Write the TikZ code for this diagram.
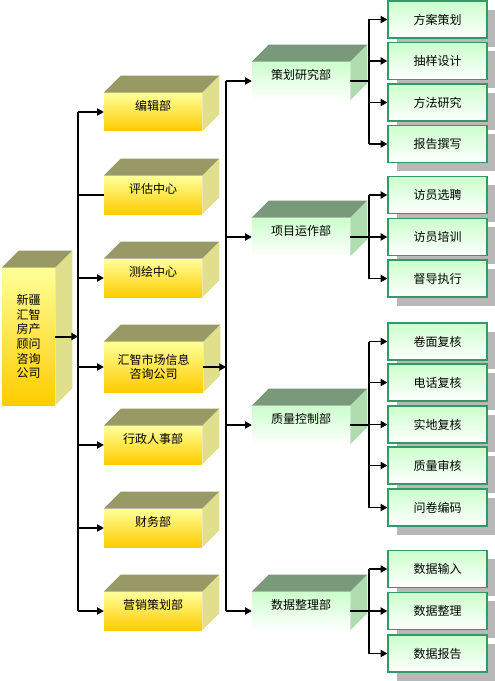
\documentclass[tikz,border=0pt]{standalone}
\usepackage{fontspec}
\setmainfont{Noto Sans CJK SC}
\usepackage{tikz}
\usetikzlibrary{arrows.meta, calc, shadows}
\definecolor{ink}{RGB}{0,0,0}
\definecolor{lemon}{RGB}{255,255,153}
\definecolor{amber}{RGB}{255,204,0}
\definecolor{olive}{RGB}{153,153,102}
\definecolor{straw}{RGB}{224,224,140}
\definecolor{mint}{RGB}{204,255,204}
\definecolor{sage}{RGB}{122,153,122}
\definecolor{fern}{RGB}{176,221,176}
\definecolor{jade}{RGB}{51,153,102}
\definecolor{smoke}{RGB}{184,184,184}

% top and side faces of a block whose front is node #1
\newcommand{\blockfaces}[3]{%
  \fill[#2] (#1.north west) -- ++(17,-17) -- ($(#1.north east)+(17,-17)$) -- (#1.north east) -- cycle;
  \fill[#3] (#1.north east) -- ++(17,-17) -- ($(#1.south east)+(17,-17)$) -- (#1.south east) -- cycle;}

\begin{document}
\begin{tikzpicture}[x=0.75pt, y=-0.75pt, font=\fontsize{9pt}{11pt}\selectfont]
  \tikzset{
    front/.style={inner sep=0pt, align=center, text=ink},
    yel/.style={front, top color=lemon, bottom color=amber, minimum width=73.5pt, minimum height=28.5pt},
    grn/.style={front, top color=mint, bottom color=white, minimum width=73.5pt, minimum height=28.5pt},
    up/.style={text height=8pt, text depth=10pt},
    leaf/.style={front, draw=jade, line width=1.1pt, top color=mint, bottom color=white,
      minimum width=74.25pt, minimum height=27.75pt,
      drop shadow={shadow xshift=6.5pt, shadow yshift=-6.5pt, fill=smoke, opacity=1}},
    wire/.style={draw=ink, line width=0.8pt},
    arr/.style={wire, -{Triangle[length=5pt, width=5.5pt]}}}

  \useasboundingbox (0,0) rectangle (495,681);

  % --- the firm
  \node[yel, minimum width=39.75pt, minimum height=102.75pt] (firm) at (28.5,336.5)
    {新疆\\汇智\\房产\\顾问\\咨询\\公司};
  \blockfaces{firm}{olive}{straw}

  % --- departments
  \node[yel, up] (edit)    at (153,112) {编辑部};
  \node[yel, up] (assess)  at (153,195) {评估中心};
  \node[yel, up] (survey)  at (153,278) {测绘中心};
  \node[yel, minimum width=74.25pt, minimum height=37.5pt] (mkt) at (153.5,367)
    {汇智市场信息\\咨询公司};
  \node[yel, up] (admin)   at (153,445) {行政人事部};
  \node[yel, up] (finance) at (153,528) {财务部};
  \node[yel, up] (sales)   at (153,611) {营销策划部};
  \foreach \n in {edit, assess, survey, mkt, admin, finance, sales}
    {\blockfaces{\n}{olive}{straw}}

  % --- sections of the research company
  \node[grn, up] (plan) at (301,81)  {策划研究部};
  \node[grn, up] (ops)  at (301,237) {项目运作部};
  \node[grn, up] (qc)   at (301,425) {质量控制部};
  \node[grn, up] (data) at (301,611) {数据整理部};
  \foreach \n in {plan, ops, qc, data}
    {\blockfaces{\n}{sage}{fern}}

  % --- tasks
  \node[leaf] (scheme)    at (437.5,19.5)  {方案策划};
  \node[leaf] (sampling)  at (437.5,61)    {抽样设计};
  \node[leaf] (method)    at (437.5,102.5) {方法研究};
  \node[leaf] (report)    at (437.5,144)   {报告撰写};
  \node[leaf] (hire)      at (437.5,195)   {访员选聘};
  \node[leaf] (train)     at (437.5,237)   {访员培训};
  \node[leaf] (supervise) at (437.5,278.5) {督导执行};
  \node[leaf] (paper)     at (437.5,341.5) {卷面复核};
  \node[leaf] (phone)     at (437.5,382.5) {电话复核};
  \node[leaf] (field)     at (437.5,424.5) {实地复核};
  \node[leaf] (audit)     at (437.5,465.5) {质量审核};
  \node[leaf] (coding)    at (437.5,507.5) {问卷编码};
  \node[leaf] (input)     at (437.5,569)   {数据输入};
  \node[leaf] (tidy)      at (437.5,611)   {数据整理};
  \node[leaf] (output)    at (437.5,653.5) {数据报告};

  % --- buses
  \coordinate (busA) at (78,0);
  \coordinate (busB) at (226,0);
  \coordinate (busC) at (369,0);

  \draw[arr, line width=1.5pt] (firm.east) -- (firm.east -| busA);
  \draw[wire] (busA |- edit.west) -- (busA |- sales.west);
  \draw[wire] (busA |- assess.west) -- (assess.west);
  \foreach \n in {edit, survey, mkt, admin, finance, sales}
    \draw[arr] (busA |- \n.west) -- (\n.west);

  \draw[arr] (mkt.east) -- (mkt.east -| busB);
  \draw[wire] (busB |- plan.west) -- (busB |- data.west);
  \foreach \n in {plan, ops, qc, data}
    \draw[arr] (busB |- \n.west) -- (\n.west);

  \foreach \g/\a/\b/\list in {plan/scheme/report/{scheme,sampling,method,report},
      ops/hire/supervise/{hire,train,supervise},
      qc/paper/coding/{paper,phone,field,audit,coding},
      data/input/output/{input,tidy,output}} {
    \draw[wire] (\g.east) -- (\g.east -| busC);
    \draw[wire] (busC |- \a.west) -- (busC |- \b.west);
    \foreach \n in \list
      \draw[arr] (busC |- \n.west) -- (\n.west);
  }
\end{tikzpicture}
\end{document}
